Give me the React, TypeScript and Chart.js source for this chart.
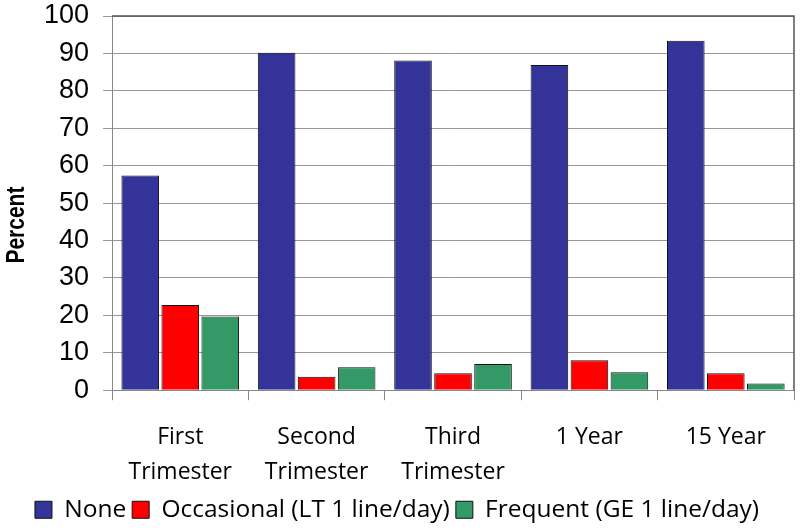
import React, { useEffect, useRef } from "react";
import { Chart, registerables } from "chart.js";

Chart.register(...registerables);

const categories: string[][] = [
  ["First", "Trimester"],
  ["Second", "Trimester"],
  ["Third", "Trimester"],
  ["1 Year"],
  ["15 Year"],
];
const noneValues = [57.4, 90.2, 88.1, 86.9, 93.4];
const occasionalValues = [22.8, 3.6, 4.5, 8.0, 4.5];
const frequentValues = [19.7, 6.1, 7.0, 4.8, 1.8];
const seriesLabels = ["None", "Occasional (LT 1 line/day)", "Frequent (GE 1 line/day)"];
const seriesColors = ["#333399", "#FF0000", "#339966"];
const yTitle = "Percent";

const framePlugin = {
  id: "frame",
  afterDraw(chart: any) {
    const { ctx, chartArea } = chart;
    ctx.save();
    ctx.strokeStyle = "#555";
    ctx.lineWidth = 1.5;
    ctx.beginPath();
    ctx.moveTo(chartArea.left, chartArea.top);
    ctx.lineTo(chartArea.right, chartArea.top);
    ctx.lineTo(chartArea.right, chartArea.bottom);
    ctx.stroke();
    // y-axis title
    ctx.fillStyle = "#000";
    ctx.font = "bold 25px 'Liberation Sans', sans-serif";
    ctx.textAlign = "center";
    ctx.textBaseline = "middle";
    ctx.translate(17, (chartArea.top + chartArea.bottom) / 2 + 22);
    ctx.rotate(-Math.PI / 2);
    ctx.scale(0.84, 1);
    ctx.fillText(yTitle, 0, 0);
    ctx.restore();
  },
};

export default function App() {
  const ref = useRef<HTMLCanvasElement | null>(null);
  useEffect(() => {
    if (!ref.current) return;
    const data = [noneValues, occasionalValues, frequentValues];
    const chart = new Chart(ref.current, {
      type: "bar",
      data: {
        labels: categories,
        datasets: data.map((vals, i) => ({
          label: seriesLabels[i],
          data: vals,
          backgroundColor: seriesColors[i],
          borderColor: "#111",
          borderWidth: 1,
          categoryPercentage: 0.88,
          barPercentage: 0.94,
        })),
      },
      options: {
        animation: false,
        responsive: false,
        devicePixelRatio: 1,
        layout: { padding: { top: 0, right: 6, left: 0, bottom: -2 } },
        plugins: {
          tooltip: { enabled: false },
          legend: {
            position: "bottom",
            labels: {
              boxWidth: 17,
              boxHeight: 17,
              padding: 6,
              color: "#000",
              font: { family: "Open Sans", size: 24.5 },
            },
          },
        },
        scales: {
          x: {
            grid: {
              offset: true,
              drawOnChartArea: false,
              drawTicks: true,
              tickLength: 10,
              color: "#888",
            },
            border: { display: true, color: "#888" },
            ticks: {
              color: "#000",
              padding: 19,
              font: { family: "Open Sans", size: 23, lineHeight: 1.55 },
              maxRotation: 0,
              autoSkip: false,
            },
            afterFit: (scale: any) => {
              scale.height -= 18;
            },
          },
          y: {
            min: 0,
            max: 100,
            ticks: {
              stepSize: 10,
              color: "#000",
              padding: 14,
              font: { family: "Liberation Sans", size: 27, lineHeight: 1 },
            },
            grid: { color: "#999", tickLength: 9, lineWidth: 1 },
            border: { display: true, color: "#888" },
            afterFit: (scale: any) => {
              scale.width += 30;
              scale.paddingTop = 16;
            },
          },
        },
      },
      plugins: [framePlugin],
    });
    return () => chart.destroy();
  }, []);
  return (
    <div style={{ position: "fixed", left: 0, top: 0, width: 800, height: 530, background: "#fff" }}>
      <canvas ref={ref} width={800} height={530} style={{ width: 800, height: 530 }} />
    </div>
  );
}
